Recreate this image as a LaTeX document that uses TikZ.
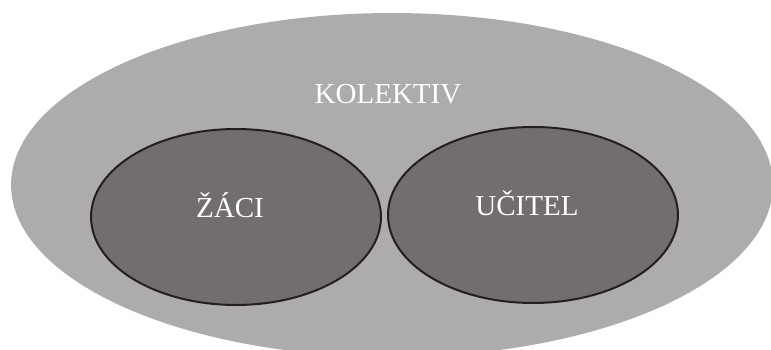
\documentclass[tikz,border=0pt]{standalone}
\usepackage{fontspec}
\setmainfont{Liberation Serif}
\usetikzlibrary{shapes.geometric}
\usepackage{xcolor}

\definecolor{outergray}{HTML}{ADACAB}
\definecolor{innergray}{HTML}{736E6E}
\definecolor{rimcolor}{HTML}{231F20}

\begin{document}
\begin{tikzpicture}[x=0.02cm, y=-0.02cm,
  whole/.style={ellipse, fill=outergray, inner sep=0pt, minimum width=15.24cm, minimum height=6.88cm},
  group/.style={ellipse, draw=rimcolor, line width=0.04cm, fill=innergray, inner sep=0pt, minimum width=5.8cm, minimum height=3.52cm},
  caption/.style={anchor=base, text=white, inner sep=0pt, font=\fontsize{16.5pt}{18pt}\selectfont}]

\useasboundingbox (0,0) rectangle (771,350);
\clip (0,0) rectangle (771,350);

%class as a whole
\node[whole] (kolektiv) at (392,185) {};

%pupils and teacher
\node[group] (zaci) at (236,217) {};
\node[group] (ucitel) at (533,215) {};

%labels
\node[caption] (kolektivtext) at (388,104) {KOLEKTIV};
\node[caption] (zacitext) at (230,218) {ŽÁCI};
\node[caption] (ucireltext) at (527,216) {UČITEL};

\end{tikzpicture}
\end{document}
